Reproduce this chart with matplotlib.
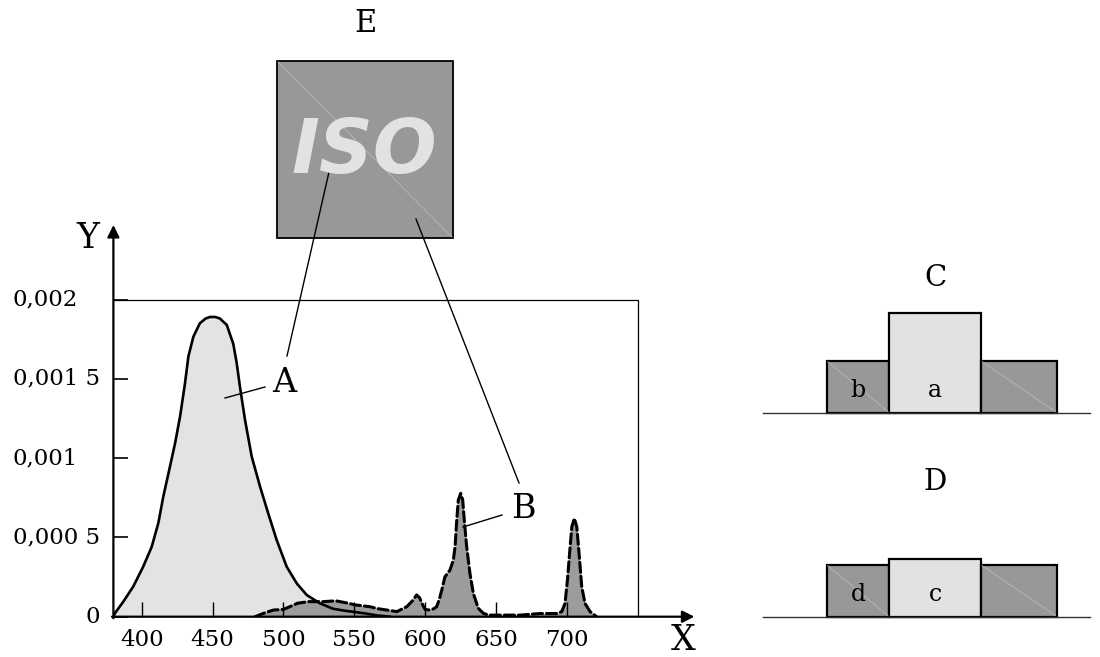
import matplotlib
matplotlib.use("Agg")
import matplotlib.pyplot as plt
import matplotlib.transforms as mtransforms

# spectral power of the two sources (x in nm, y in 1e-3 units)
a_x = [380, 381, 387, 394, 401, 407, 411.7, 415.2, 419.9, 423.5, 427, 430.5, 432.9,
       436.4, 441, 445, 448.2, 452, 455.2, 460, 464.6, 467, 469.3, 472.9, 477.6,
       483.5, 489.3, 495.2, 502.3, 509.4, 516.4, 525.8, 535, 543, 550, 558, 566, 575]
a_y = [0.0, 0.021, 0.095, 0.19, 0.315, 0.44, 0.59, 0.757, 0.946, 1.093, 1.26, 1.47,
       1.64, 1.765, 1.85, 1.88, 1.89, 1.89, 1.88, 1.84, 1.72, 1.60, 1.45, 1.24, 1.01,
       0.82, 0.65, 0.484, 0.315, 0.21, 0.137, 0.084, 0.05, 0.038, 0.03, 0.02, 0.008,
       0.0]
b_x = [480, 487, 493, 500, 505, 510, 518, 528, 537, 544, 551, 561, 567, 573, 580,
       587, 591, 594, 596, 598, 600, 603.4, 606, 608.1, 610, 611.7, 614, 617.5,
       619.9, 621.1, 622.3, 623.4, 625.1, 626.5, 627.6, 629.3, 631.6, 634, 637.5,
       641.1, 645, 653, 667, 681, 693, 696.4, 698.7, 700.4, 702.3, 703.5, 705.3, 707,
       708.6, 710.5, 712.8, 716.4, 721]
b_y = [0.0, 0.025, 0.042, 0.046, 0.065, 0.085, 0.095, 0.095, 0.10, 0.088, 0.074,
       0.063, 0.05, 0.042, 0.032, 0.063, 0.10, 0.137, 0.12, 0.08, 0.045, 0.042,
       0.05, 0.063, 0.11, 0.168, 0.252, 0.294, 0.357, 0.441, 0.61, 0.736, 0.778,
       0.736, 0.61, 0.441, 0.273, 0.147, 0.053, 0.021, 0.01, 0.01, 0.01, 0.02, 0.02,
       0.032, 0.084, 0.231, 0.441, 0.567, 0.62, 0.567, 0.40, 0.189, 0.084, 0.032,
       0.0]
a_y = [v * 1e-3 for v in a_y]
b_y = [v * 1e-3 for v in b_y]

x_ticks = [400, 450, 500, 550, 600, 650, 700]
y_ticks = [0, 0.0005, 0.001, 0.0015, 0.002]
y_labels = ["0", "0,000 5", "0,001", "0,001 5", "0,002"]

# colour patches C and D (heights in pixels)
patch_edges = [826.7, 889, 981, 1056.7]
c_heights = [52, 100, 52]
d_heights = [52, 58, 52]
patch_colors = ["#989898", "#e2e2e2", "#989898"]

W, H = 1100, 657
SERIF = "DejaVu Serif"

fig = plt.figure(figsize=(11, 6.57), dpi=100)

ax = fig.add_axes([113.4 / W, 1 - 616.7 / H, 581 / W, 391.7 / H])
ax.set_xlim(380, 790)
ax.set_ylim(0, 0.00247)
for s in ax.spines.values():
    s.set_visible(False)

ax.fill_between(a_x, a_y, color="#e3e3e3", lw=0, zorder=1)
ax.fill_between(b_x, b_y, color="#9c9c9c", lw=0, zorder=1.2)
ax.plot(b_x, b_y, color="k", lw=2.2, dashes=(3.3, 1.3), zorder=3,
        dash_joinstyle="round", dash_capstyle="round")
ax.plot(a_x, a_y, color="k", lw=1.9, zorder=3.2, solid_joinstyle="round")

# frame at 0,002 / 750 nm
ax.plot([380, 750, 750], [0.002, 0.002, 0], color="k", lw=0.9, zorder=2)

# axes with arrows
ax.annotate("", xy=(790, 0), xytext=(379, 0), annotation_clip=False,
            arrowprops=dict(arrowstyle="-|>", color="k", lw=1.6, mutation_scale=18,
                            shrinkA=0, shrinkB=0), zorder=4)
ax.annotate("", xy=(380, 0.00247), xytext=(380, -0.00001), annotation_clip=False,
            arrowprops=dict(arrowstyle="-|>", color="k", lw=1.6, mutation_scale=18,
                            shrinkA=0, shrinkB=0), zorder=4)

ax.set_xticks(x_ticks)
ax.set_xticklabels([str(v) for v in x_ticks], fontsize=16.5, family=SERIF)
ax.tick_params(axis="x", direction="in", length=11, width=1.0, pad=9)
ax.set_yticks(y_ticks)
ax.set_yticklabels([])
ax.tick_params(axis="y", direction="in", length=11, width=1.2)

tr = mtransforms.blended_transform_factory(fig.transFigure, ax.transData)
for v, lab in zip(y_ticks, y_labels):
    if v == 0:
        ax.text(100 / W, v, lab, transform=tr, ha="right", va="center",
                fontsize=16.5, family=SERIF)
    else:
        ax.text(13 / W, v, lab, transform=tr, ha="left", va="center",
                fontsize=16.5, family=SERIF)

# overlay in pixel space for the sketch parts
ov = fig.add_axes([0, 0, 1, 1], zorder=5)
ov.set_xlim(0, W)
ov.set_ylim(H, 0)
ov.axis("off")
ov.patch.set_alpha(0)

ov.text(88, 238, "Y", fontsize=25, family=SERIF, ha="center", va="center")
ov.text(683, 640, "X", fontsize=25, family=SERIF, ha="center", va="center")

# E: ISO sample
ov.add_patch(plt.Rectangle((277.3, 61), 175.4, 176.7, facecolor="#989898",
                           edgecolor="k", lw=1.3))
ov.plot([278, 452], [62, 237], color="#b4b4b4", lw=0.7)
ov.text(364, 153, "ISO", fontsize=54, fontweight="bold", style="italic",
        family="DejaVu Sans", color="#e2e2e2", ha="center", va="center")
ov.text(365, 23, "E", fontsize=22, family=SERIF, ha="center", va="center")

# leaders
ov.plot([287, 329], [356, 172], color="k", lw=1.0)
ov.plot([225, 265], [398, 387], color="k", lw=1.0)
ov.text(284, 383, "A", fontsize=24, family=SERIF, ha="center", va="center")
ov.plot([519, 416], [483, 219], color="k", lw=1.0)
ov.plot([463, 502], [527, 515], color="k", lw=1.0)
ov.text(523, 509, "B", fontsize=24, family=SERIF, ha="center", va="center")

# C and D diagrams
lefts = patch_edges[:-1]
widths = [patch_edges[i + 1] - patch_edges[i] for i in range(3)]
for base, heights, title, labs in [(412.7, c_heights, "C", ["b", "a"]),
                                   (616.7, d_heights, "D", ["d", "c"])]:
    ov.plot([763, 1090], [base, base], color="#333333", lw=1.0)
    ov.bar(lefts, [-h for h in heights], width=widths, bottom=base, align="edge",
           color=patch_colors, edgecolor="k", lw=1.6)
    for i in (0, 2):
        ov.plot([lefts[i] + 1, lefts[i] + widths[i] - 1],
                [base - heights[i] + 1, base - 1], color="#b8b8b8", lw=0.6)
    ov.text(935, base - 134.5, title, fontsize=21, family=SERIF,
            ha="center", va="center")
    ov.text(858.3, base - 22, labs[0], fontsize=17, family=SERIF,
            ha="center", va="center")
    ov.text(935, base - 22, labs[1], fontsize=17, family=SERIF,
            ha="center", va="center")

fig.savefig("out.png", dpi=100)
